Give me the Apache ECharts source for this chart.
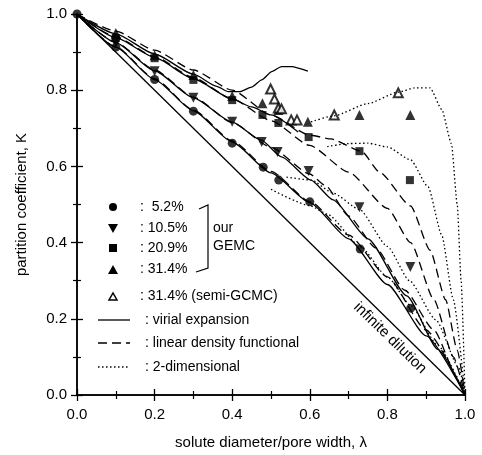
<!DOCTYPE html>
<html>
<head>
<meta charset="UTF-8">
<title>partition coefficient</title>
<script src="https://cdn.jsdelivr.net/npm/echarts@6/dist/echarts.min.js"></script>
<style>body{margin:0;background:#fff}</style>
</head>
<body>
<div id="main" style="width:482px;height:455px"></div>
<script type="text/javascript">
// GEMC points, [lambda, K]
var gemc52 = [[0,1],[0.1,0.913],[0.2,0.828],[0.3,0.745],[0.4,0.661],[0.48,0.598],[0.52,0.564],[0.6,0.507],[0.73,0.383],[0.86,0.228]];
var gemc105 = [[0.1,0.924],[0.2,0.85],[0.3,0.78],[0.4,0.717],[0.476,0.664],[0.517,0.638],[0.597,0.588],[0.728,0.493],[0.859,0.336]];
var gemc209 = [[0.1,0.937],[0.2,0.884],[0.3,0.827],[0.4,0.774],[0.478,0.735],[0.519,0.714],[0.597,0.677],[0.728,0.64],[0.858,0.564]];
var gemc314 = [[0.1,0.95],[0.2,0.892],[0.3,0.84],[0.4,0.785],[0.478,0.766],[0.519,0.748],[0.595,0.717],[0.728,0.735],[0.859,0.735]];
var semiGcmc = [[0.499,0.803],[0.509,0.777],[0.519,0.753],[0.527,0.751],[0.552,0.722],[0.567,0.722],[0.663,0.735],[0.828,0.793]];

// infinite dilution K = 1 - lambda
var infDilution = [[0,1],[1,0]];

// virial expansion (solid)
var virial52 = [[0,1],[0.1,0.913],[0.2,0.828],[0.3,0.746],[0.4,0.664],[0.5,0.583],[0.6,0.505],[0.7,0.41],[0.8,0.29],[0.9,0.155],[1,0]];
var virial105 = [[0,1],[0.1,0.925],[0.2,0.851],[0.3,0.78],[0.4,0.716],[0.475,0.669],[0.527,0.625],[0.603,0.564],[0.66,0.512],[0.75,0.41],[0.85,0.26],[0.93,0.12],[1,0]];
var virial209 = [[0,1],[0.1,0.938],[0.2,0.886],[0.3,0.83],[0.4,0.777],[0.45,0.756],[0.5,0.735],[0.57,0.69]];
var virial314 = [[0,1],[0.1,0.948],[0.2,0.895],[0.3,0.842],[0.36,0.81],[0.39,0.796],[0.42,0.796],[0.45,0.808],[0.476,0.827],[0.502,0.849],[0.527,0.862],[0.553,0.862],[0.595,0.85]];

// linear density functional (dashed)
var ldf52 = [[0,1],[0.1,0.914],[0.2,0.83],[0.3,0.748],[0.4,0.667],[0.5,0.587],[0.6,0.508],[0.7,0.42],[0.8,0.31],[0.9,0.17],[1,0]];
var ldf105 = [[0,1],[0.1,0.926],[0.2,0.853],[0.3,0.782],[0.4,0.715],[0.5,0.65],[0.6,0.58],[0.64,0.55],[0.7,0.47],[0.77,0.386],[0.845,0.275],[0.92,0.17],[0.98,0.047],[1,0]];
var ldf209 = [[0,1],[0.1,0.94],[0.2,0.888],[0.3,0.833],[0.4,0.777],[0.5,0.72],[0.6,0.655],[0.7,0.585],[0.8,0.49],[0.86,0.4],[0.92,0.25],[0.97,0.1],[1,0]];
var ldf314 = [[0,1],[0.1,0.955],[0.2,0.905],[0.3,0.853],[0.4,0.8],[0.5,0.735],[0.6,0.682],[0.655,0.672],[0.733,0.64],[0.78,0.585],[0.86,0.496],[0.91,0.38],[0.95,0.25],[0.98,0.118],[1,0]];

// 2-dimensional (dotted), only drawn at large lambda
var twoD52 = [[0.5,0.54],[0.6,0.497],[0.645,0.475],[0.73,0.39],[0.8,0.31],[0.86,0.235],[0.93,0.13],[1,0]];
var twoD105 = [[0.54,0.572],[0.604,0.564],[0.66,0.53],[0.728,0.487],[0.8,0.39],[0.857,0.3],[0.925,0.197],[0.985,0.07],[1,0]];
var twoD209 = [[0.645,0.652],[0.7,0.66],[0.75,0.661],[0.8,0.651],[0.86,0.617],[0.905,0.546],[0.94,0.42],[0.97,0.25],[1,0]];
var twoD314 = [[0.603,0.717],[0.663,0.733],[0.75,0.765],[0.828,0.795],[0.87,0.806],[0.91,0.806],[0.94,0.75],[0.965,0.66],[0.98,0.5],[0.99,0.3],[1,0]];

var font = 'Liberation Sans, Arial, sans-serif';

function curve(data, dash) {
    return {
        type: 'line', data: data, showSymbol: false, smooth: 0.2, smoothMonotone: 'x', silent: true,
        lineStyle: {color: '#000', width: 1.3, type: dash}
    };
}
function points(data, symbol, size, rotate) {
    return {
        type: 'scatter', data: data, symbol: symbol, symbolSize: size, symbolRotate: rotate || 0,
        itemStyle: {color: '#000', borderColor: '#000', borderWidth: symbol.indexOf('empty') === 0 ? 1.6 : 0}
    };
}

var axisCommon = {
    type: 'value', min: 0, max: 1, interval: 0.2,
    axisLine: {lineStyle: {color: '#000', width: 1.5}},
    axisTick: {inside: true, length: 6, lineStyle: {color: '#000', width: 1.3}},
    minorTick: {show: true, splitNumber: 2, length: 4, lineStyle: {color: '#000', width: 1.2}},
    splitLine: {show: false}
};

var myChart = echarts.init(document.getElementById('main'));
var dashed = [9, 5];
var dotted = [1.5, 2.5];

var option = {
    backgroundColor: '#fff',
    animation: false,
    grid: {left: 77, right: 17, top: 14, bottom: 60},
    xAxis: [
        Object.assign({}, axisCommon, {
            position: 'bottom',
            name: 'solute diameter/pore width, λ', nameLocation: 'middle', nameGap: 40,
            nameTextStyle: {fontFamily: font, fontSize: 15, color: '#000'},
            axisLabel: {fontFamily: font, fontSize: 15, color: '#000', margin: 12,
                formatter: function (v) { return v.toFixed(1); }}
        }),
        Object.assign({}, axisCommon, {position: 'top', axisLabel: {show: false}})
    ],
    yAxis: [
        Object.assign({}, axisCommon, {
            position: 'left',
            name: 'partition coefficient, K', nameLocation: 'middle', nameGap: 48,
            nameTextStyle: {fontFamily: font, fontSize: 15, color: '#000'},
            axisLabel: {fontFamily: font, fontSize: 15, color: '#000', margin: 10,
                formatter: function (v) { return v.toFixed(1); }}
        }),
        Object.assign({}, axisCommon, {position: 'right', axisLabel: {show: false}})
    ],
    series: [
        curve(infDilution, 'solid'),
        curve(virial52, 'solid'), curve(virial105, 'solid'), curve(virial209, 'solid'), curve(virial314, 'solid'),
        curve(ldf52, dashed), curve(ldf105, dashed), curve(ldf209, dashed), curve(ldf314, dashed),
        curve(twoD52, dotted), curve(twoD105, dotted), curve(twoD209, dotted), curve(twoD314, dotted),
        points(gemc52, 'circle', 9),
        points(gemc105, 'triangle', 10, 180),
        points(gemc209, 'rect', 8),
        points(gemc314, 'triangle', 10),
        points(semiGcmc, 'emptyTriangle', 9)
    ],
    graphic: [
        // legend
        {type: 'circle', shape: {cx: 113, cy: 207, r: 4}, style: {fill: '#000'}},
        {type: 'polygon', shape: {points: [[108, 224], [118, 224], [113, 233]]}, style: {fill: '#000'}},
        {type: 'rect', shape: {x: 109, y: 244, width: 8, height: 8}, style: {fill: '#000'}},
        {type: 'polygon', shape: {points: [[108, 274], [118, 274], [113, 265]]}, style: {fill: '#000'}},
        {type: 'polygon', shape: {points: [[109, 300], [117, 300], [113, 293]]}, style: {fill: '#fff', stroke: '#000', lineWidth: 1.5}},
        {type: 'text', x: 140, y: 207, style: {text: ':  5.2%', font: '14px ' + font, fill: '#000', verticalAlign: 'middle'}},
        {type: 'text', x: 140, y: 228, style: {text: ': 10.5%', font: '14px ' + font, fill: '#000', verticalAlign: 'middle'}},
        {type: 'text', x: 140, y: 248, style: {text: ': 20.9%', font: '14px ' + font, fill: '#000', verticalAlign: 'middle'}},
        {type: 'text', x: 140, y: 269, style: {text: ': 31.4%', font: '14px ' + font, fill: '#000', verticalAlign: 'middle'}},
        {type: 'text', x: 140, y: 296, style: {text: ': 31.4% (semi-GCMC)', font: '14px ' + font, fill: '#000', verticalAlign: 'middle'}},
        {type: 'polyline', shape: {points: [[199, 209], [208, 205], [208, 268], [196, 272]]}, style: {stroke: '#000', lineWidth: 1.2, fill: null}},
        {type: 'text', x: 213, y: 228, style: {text: 'our', font: '14px ' + font, fill: '#000', verticalAlign: 'middle'}},
        {type: 'text', x: 213, y: 246, style: {text: 'GEMC', font: '14px ' + font, fill: '#000', verticalAlign: 'middle'}},
        {type: 'line', shape: {x1: 98, y1: 320, x2: 130, y2: 320}, style: {stroke: '#000', lineWidth: 1.3}},
        {type: 'line', shape: {x1: 98, y1: 343, x2: 130, y2: 343}, style: {stroke: '#000', lineWidth: 1.3, lineDash: dashed}},
        {type: 'line', shape: {x1: 98, y1: 367, x2: 130, y2: 367}, style: {stroke: '#000', lineWidth: 1.3, lineDash: dotted}},
        {type: 'text', x: 145, y: 320, style: {text: ': virial expansion', font: '14px ' + font, fill: '#000', verticalAlign: 'middle'}},
        {type: 'text', x: 145, y: 343, style: {text: ': linear density functional', font: '14px ' + font, fill: '#000', verticalAlign: 'middle'}},
        {type: 'text', x: 145, y: 367, style: {text: ': 2-dimensional', font: '14px ' + font, fill: '#000', verticalAlign: 'middle'}},
        {type: 'text', x: 390, y: 338, rotation: -0.77, style: {text: 'infinite dilution', font: '15px ' + font, fill: '#000', align: 'center', verticalAlign: 'middle'}}
    ]
};

myChart.setOption(option);
</script>
</body>
</html>
